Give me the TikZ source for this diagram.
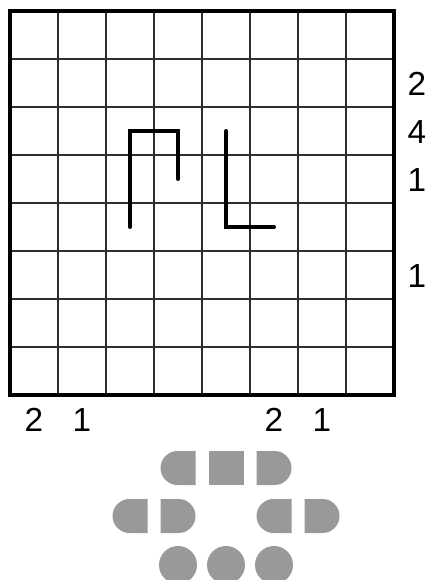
\documentclass[tikz,border=0pt]{standalone}
\usepackage{fontspec}
\setmainfont{Liberation Sans}
\usetikzlibrary{shapes.misc}
\definecolor{tilegray}{RGB}{153,153,153}
\definecolor{gridgray}{RGB}{45,45,45}

\begin{document}
\begin{tikzpicture}[x=0.75pt,y=-0.75pt,
      gridline/.style={gridgray, line width=0.8pt},
      frame/.style={black, line width=3pt},
      pathline/.style={black, line width=3pt, line cap=round, line join=miter},
      clue/.style={font=\fontsize{25}{30}\selectfont, inner sep=0pt},
      tile/.style={fill=tilegray, draw=none, inner sep=0pt,
                   minimum width=26.25pt, minimum height=25.5pt},
      lefttile/.style={tile, rounded rectangle, rounded rectangle east arc=none},
      righttile/.style={tile, rounded rectangle, rounded rectangle west arc=none},
      squaretile/.style={tile, rectangle},
      roundtile/.style={tile, circle, minimum size=28.5pt}
    ]
    \useasboundingbox (0,0) rectangle (425,580);

    % grid
    \foreach \k in {1,...,7} {
      \draw[gridline] (10+48*\k,11) -- (10+48*\k,395);
      \draw[gridline] (10,11+48*\k) -- (394,11+48*\k);
    }
    \draw[frame] (10,11) rectangle (394,395);

    % the two drawn lines
    \draw[pathline] (130,227) -- (130,131) -- (178,131) -- (178,179);
    \draw[pathline] (226,131) -- (226,227) -- (274,227);

    % clues on the right
    \node[clue] (r2) at (417,84) {2};
    \node[clue] (r3) at (417,132) {4};
    \node[clue] (r4) at (417,180) {1};
    \node[clue] (r6) at (417,276) {1};

    % clues below
    \node[clue] (b1) at (34,420) {2};
    \node[clue] (b2) at (82,420) {1};
    \node[clue] (b6) at (274,420) {2};
    \node[clue] (b7) at (322,420) {1};

    % pieces
    \node[lefttile]   (p1) at (178,468) {};
    \node[squaretile] (p2) at (226,468) {};
    \node[righttile]  (p3) at (274,468) {};
    \node[lefttile]   (p4) at (130,516) {};
    \node[righttile]  (p5) at (178,516) {};
    \node[lefttile]   (p6) at (274,516) {};
    \node[righttile]  (p7) at (322,516) {};
    \node[roundtile]  (p8) at (178,565) {};
    \node[roundtile]  (p9) at (226,565) {};
    \node[roundtile]  (p10) at (274,565) {};
\end{tikzpicture}
\end{document}
